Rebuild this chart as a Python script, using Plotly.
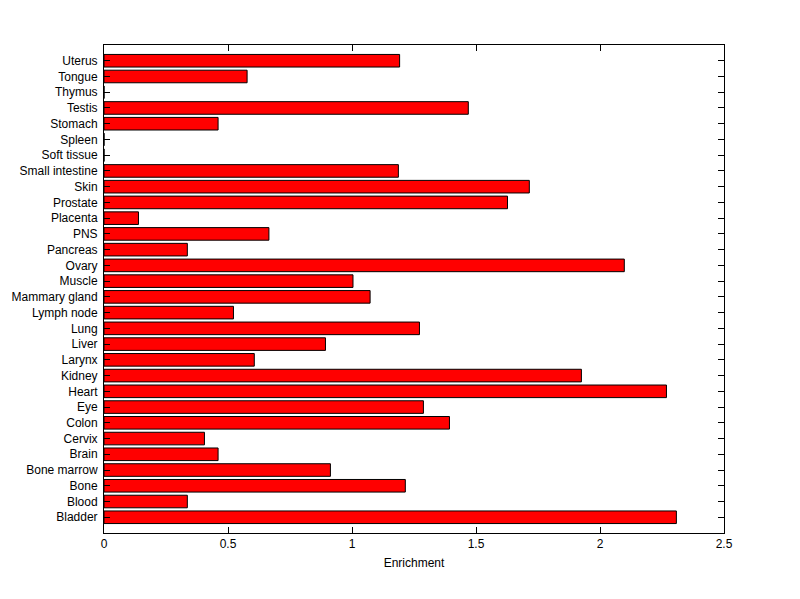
import plotly.graph_objects as go

tissues = ["Bladder", "Blood", "Bone", "Bone marrow", "Brain", "Cervix", "Colon", "Eye",
           "Heart", "Kidney", "Larynx", "Liver", "Lung", "Lymph node", "Mammary gland",
           "Muscle", "Ovary", "Pancreas", "PNS", "Placenta", "Prostate", "Skin",
           "Small intestine", "Soft tissue", "Spleen", "Stomach", "Testis", "Thymus",
           "Tongue", "Uterus"]
enrichment = [2.308, 0.336, 1.215, 0.913, 0.46, 0.405, 1.393, 1.288,
              2.268, 1.925, 0.606, 0.893, 1.272, 0.522, 1.073,
              1.004, 2.098, 0.336, 0.665, 0.139, 1.627, 1.715,
              1.187, 0.0, 0.0, 0.46, 1.469, 0.0,
              0.577, 1.192]
x_ticks = [0, 0.5, 1, 1.5, 2, 2.5]
x_tick_labels = ["0", "0.5", "1", "1.5", "2", "2.5"]

font = "Liberation Sans, Arial, sans-serif"

fig = go.Figure(go.Bar(
    x=enrichment, y=list(range(len(tissues))), orientation="h",
    width=0.8,
    marker=dict(color="#ff0000", line=dict(color="black", width=1)),
))

fig.update_layout(
    width=792, height=591,
    margin=dict(l=96, r=76, t=37, b=66),
    paper_bgcolor="white", plot_bgcolor="white",
    showlegend=False,
    font=dict(family=font, size=12, color="black"),
    xaxis=dict(range=[0, 2.5], tickvals=x_ticks, ticktext=x_tick_labels,
               ticks="inside", ticklen=6, tickcolor="black", tickwidth=1,
               showline=True, linecolor="black", linewidth=1, mirror="ticks",
               showgrid=False, zeroline=False, automargin=False,
               title=dict(text="Enrichment", font=dict(size=12), standoff=8)),
    yaxis=dict(range=[-1, len(tissues)], tickvals=list(range(len(tissues))),
               ticktext=tissues, automargin=False, ticklabelstandoff=3,
               ticks="inside", ticklen=6, tickcolor="black", tickwidth=1,
               showline=True, linecolor="black", linewidth=1, mirror="ticks",
               showgrid=False, zeroline=False),
)

fig.write_html("out.html")
